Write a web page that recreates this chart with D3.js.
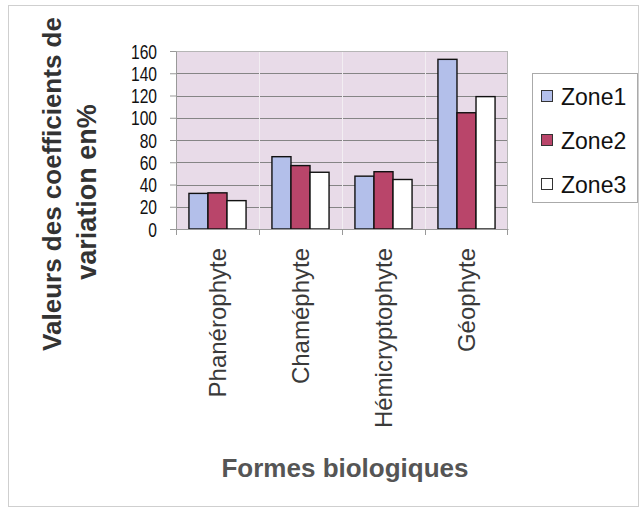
<!DOCTYPE html>
<html><head><meta charset="utf-8">
<script src="https://cdn.jsdelivr.net/npm/d3@7"></script>
<style>body{margin:0;background:#fff}svg{display:block}text{font-family:"Liberation Sans",Arial,sans-serif}</style>
</head><body>
<script>
const categories = ["Phanérophyte","Chaméphyte","Hémicryptophyte","Géophyte"];
const zones = ["Zone1","Zone2","Zone3"];
const zone1 = [32, 65, 47.5, 152.5];
const zone2 = [32.5, 57, 51.5, 104.5];
const zone3 = [25.5, 51, 44.5, 119];
const yTicks = [0,20,40,60,80,100,120,140,160];
const colors = ["#b3bfea","#b9456a","#ffffff"];
const yTitle = ["Valeurs des coefficients de","variation en%"];
const xTitle = "Formes biologiques";

const W=640,H=513;
const svg=d3.select("body").append("svg").attr("width",W).attr("height",H);
svg.append("rect").attr("x",8.5).attr("y",5.5).attr("width",630).attr("height",501)
  .attr("fill","#fff").attr("stroke","#cfcfcf");

const L=176,R=508,T=51,B=229;
const x0=d3.scaleBand().domain(categories).range([L,R]).paddingInner(0).paddingOuter(0);
const x1=d3.scaleBand().domain(zones).range([0,x0.bandwidth()]).paddingInner(0).paddingOuter(0.68);
const y=d3.scaleLinear().domain([0,160]).range([B,T]);

svg.append("rect").attr("x",L).attr("y",T).attr("width",R-L).attr("height",B-T).attr("fill","#e8dbe8");
svg.append("g").selectAll("line").data(yTicks.slice(1)).join("line")
  .attr("x1",L).attr("x2",R).attr("y1",d=>Math.round(y(d))+0.5).attr("y2",d=>Math.round(y(d))+0.5)
  .attr("stroke","#858585").attr("stroke-width",1);
svg.append("g").selectAll("line").data(categories.slice(1)).join("line")
  .attr("x1",d=>x0(d)+0.5).attr("x2",d=>x0(d)+0.5).attr("y1",T).attr("y2",B)
  .attr("stroke","#f2eef2").attr("stroke-width",1);
svg.append("rect").attr("x",L+0.5).attr("y",T+0.5).attr("width",R-L-1).attr("height",B-T)
  .attr("fill","none").attr("stroke","#b5b5b5");

const series=[zone1,zone2,zone3];
const data=[];
categories.forEach((c,i)=>zones.forEach((z,j)=>data.push({c,z,v:series[j][i],j})));
svg.append("g").selectAll("rect").data(data).join("rect")
  .attr("x",d=>x0(d.c)+x1(d.z)).attr("width",x1.bandwidth())
  .attr("y",d=>y(d.v)).attr("height",d=>B-y(d.v))
  .attr("fill",d=>colors[d.j]).attr("stroke","#111").attr("stroke-width",1.4);

// y axis
const ya=svg.append("g").attr("transform",`translate(${L},0)`)
  .call(d3.axisLeft(y).tickValues(yTicks).tickSize(6).tickSizeOuter(0));
ya.select(".domain").attr("stroke","#999");
ya.selectAll(".tick line").attr("stroke","#999");
ya.selectAll(".tick text").attr("font-size",19.5).attr("fill","#111")
  .attr("transform","scale(0.8,1)").attr("x",-19/0.8).attr("dy","0.36em");

// x axis
const xa=svg.append("g").attr("transform",`translate(0,${B})`)
  .call(d3.axisBottom(x0).tickSize(0).tickSizeOuter(0));
xa.select(".domain").attr("stroke","#999");
xa.selectAll(".tick text").attr("font-size",24).attr("fill","#3a3a3a")
  .attr("transform","rotate(-90)").attr("text-anchor","end")
  .attr("x",-19).attr("y",0).attr("dy","0.36em");
svg.append("g").selectAll("line").data(categories).join("line")
  .attr("x1",d=>x0(d)+0.5).attr("x2",d=>x0(d)+0.5).attr("y1",B).attr("y2",B+6)
  .attr("stroke","#999");
svg.append("line").attr("x1",R-0.5).attr("x2",R-0.5).attr("y1",B).attr("y2",B+6).attr("stroke","#999");

// axis titles
const yt=svg.append("text").attr("transform","translate(61,186) rotate(-90)")
  .attr("text-anchor","middle").attr("font-weight","bold").attr("font-size",26).attr("fill","#333");
yt.append("tspan").attr("x",2).attr("y",0).text(yTitle[0]);
yt.append("tspan").attr("x",-6).attr("y",35).attr("font-size",27).text(yTitle[1]);
svg.append("text").attr("x",345).attr("y",477).attr("text-anchor","middle")
  .attr("font-weight","bold").attr("font-size",26).attr("fill","#555").text(xTitle);

// legend
const lg=svg.append("g");
lg.append("rect").attr("x",532.5).attr("y",73.5).attr("width",105).attr("height",129)
  .attr("fill","#fff").attr("stroke","#aaa");
zones.forEach((z,i)=>{
  const cy=97+i*44;
  lg.append("rect").attr("x",541.5).attr("y",cy-6.5).attr("width",11).attr("height",11)
    .attr("fill",colors[i]).attr("stroke","#333");
  lg.append("text").attr("x",561).attr("y",cy).attr("dy","0.36em").attr("font-size",23)
    .attr("fill","#111").text(z);
});
</script>
</body></html>
